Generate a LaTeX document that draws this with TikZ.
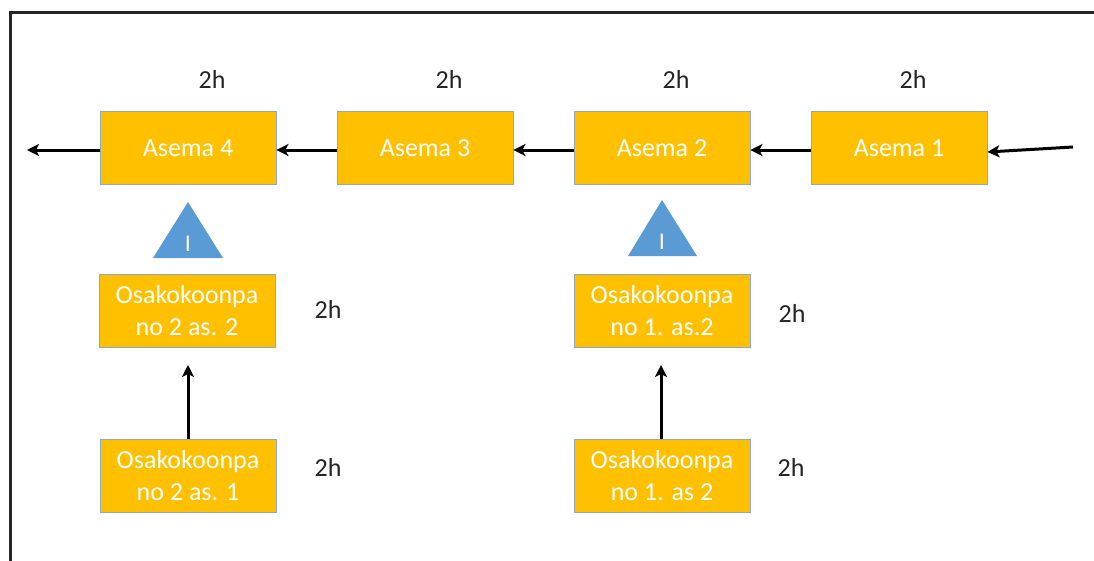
\documentclass[tikz,border=0pt]{standalone}
\usepackage{fontspec}
\setmainfont{Carlito}
\usetikzlibrary{arrows.meta}
\definecolor{boxfill}{HTML}{FFC000}
\definecolor{boxline}{HTML}{8EA9C8}
\definecolor{tri}{HTML}{5B9BD5}
\definecolor{ink}{HTML}{262626}
\tikzset{
  stagebox/.style={draw=boxline, line width=0.8pt, fill=boxfill, minimum width=176pt,
    minimum height=73pt, inner sep=0pt, text=white, font=\fontsize{26}{32}\selectfont,
    align=center},
  timelbl/.style={text=ink, font=\fontsize{26}{30}\selectfont, inner sep=0pt},
  flow/.style={line width=3pt, draw=black, -{Stealth[length=12pt,width=12pt,inset=3pt]}},
  marker/.style={fill=tri},
  markertxt/.style={text=white, font=\fontsize{24}{28}\selectfont, inner sep=0pt},
}
\begin{document}
\begin{tikzpicture}[x=1pt,y=-1pt]
\useasboundingbox (0,0) rectangle (1094,560);
% outer frame (only top and left edges lie inside the page)
\draw[line width=3pt, draw=ink] (10,580) -- (10,12) -- (1110,12);

% main line of stations
\node[stagebox] (a4) at (188,148) {Asema 4};
\node[stagebox] (a3) at (425,148) {Asema 3};
\node[stagebox] (a2) at (662,148) {Asema 2};
\node[stagebox] (a1) at (899,148) {Asema 1};

\node[timelbl] (t4) at (212,79) {2h};
\node[timelbl] (t3) at (449,79) {2h};
\node[timelbl] (t2) at (676,79) {2h};
\node[timelbl] (t1) at (913,79) {2h};

\coordinate (out) at (27,150);
\coordinate (in) at (1073,147);
\draw[flow] (a4.west |- 0,150) -- (out);
\draw[flow] (a3.west |- 0,150) -- (a4.east |- 0,150);
\draw[flow] (a2.west |- 0,150) -- (a3.east |- 0,150);
\draw[flow] (a1.west |- 0,150) -- (a2.east |- 0,150);
\draw[flow] (in) -- (a1.east |- 0,152);

% inspection markers
\fill[marker] (153,258) -- (188,202) -- (223,258) -- cycle;
\node[markertxt] (i4) at (188,244) {I};
\fill[marker] (628,256) -- (662,200) -- (697,256) -- cycle;
\node[markertxt] (i2) at (662,242) {I};

% sub-assemblies
\node[stagebox] (s22) at (187,311) {Osakokoonpa\\no 2 as. 2};
\node[stagebox] (s21) at (188,476) {Osakokoonpa\\no 2 as. 1};
\node[stagebox] (s12) at (662,311) {Osakokoonpa\\no 1. as.2};
\node[stagebox] (s11) at (662,476) {Osakokoonpa\\no 1. as 2};

\node[timelbl] (u22) at (328,309) {2h};
\node[timelbl] (u21) at (328,467) {2h};
\node[timelbl] (u12) at (792,313) {2h};
\node[timelbl] (u11) at (791,467) {2h};

\coordinate (e2) at (188,365);
\coordinate (e1) at (661,365);
\draw[flow] (s21.north -| e2) -- (e2);
\draw[flow] (s11.north -| e1) -- (e1);
\end{tikzpicture}
\end{document}
